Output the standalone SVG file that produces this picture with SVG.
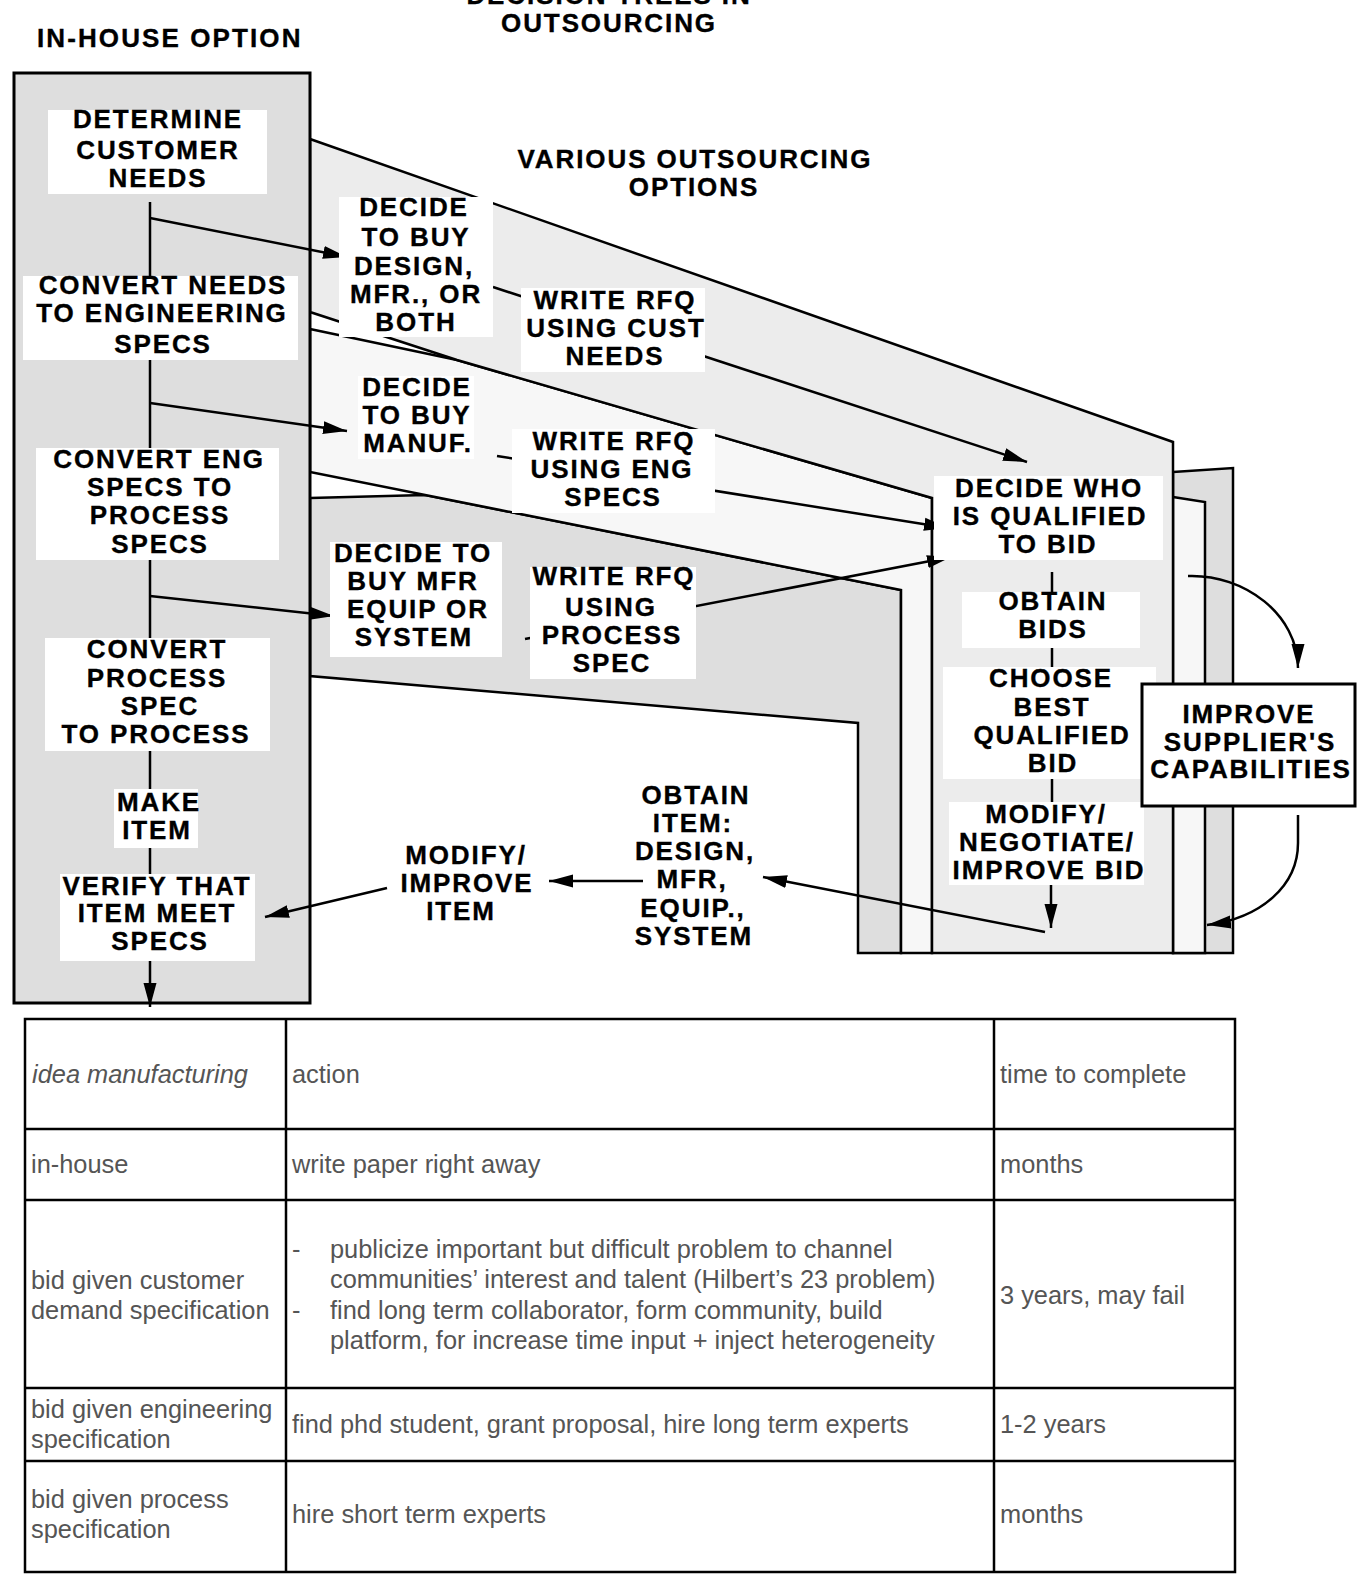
<svg xmlns="http://www.w3.org/2000/svg" width="1362" height="1578" viewBox="0 0 1362 1578">
<style>
.lbl{font-family:"Liberation Sans",Arial,Helvetica,sans-serif;font-weight:bold;font-size:26px;letter-spacing:1.9px;text-anchor:middle;fill:#000;stroke:#000;stroke-width:0.35px}
.ttl{font-family:"Liberation Sans",Arial,Helvetica,sans-serif;font-weight:bold;font-size:26px;letter-spacing:2.1px;fill:#000;stroke:#000;stroke-width:0.35px}
.box{fill:#fff}
.cn{stroke:#000;stroke-width:2.5;fill:none}
.arr{marker-end:url(#ah)}
.band{stroke:#000;stroke-width:2.5;stroke-linejoin:miter}
.tl{stroke:#000;stroke-width:2.5}
.tt{font-family:"Liberation Sans",Arial,Helvetica,sans-serif;font-size:25.4px;fill:#555}
</style>
<defs>
<marker id="ah" markerUnits="userSpaceOnUse" markerWidth="25" markerHeight="15" refX="24" refY="7.5" orient="auto">
<path d="M0,1 L24,7.5 L0,14 z" fill="#000"/>
</marker>
</defs>
<rect width="1362" height="1578" fill="#fff"/>

<g id="titles">
<text class="lbl" x="609" y="4">DECISION TREES IN</text>
<text class="lbl" x="609" y="32">OUTSOURCING</text>
<text class="ttl" x="37" y="47">IN-HOUSE OPTION</text>
<text class="lbl" x="695" y="168">VARIOUS OUTSOURCING</text>
<text class="lbl" x="694" y="196">OPTIONS</text>
</g>

<g id="bands">
<polygon class="band" fill="#dedede" points="1173,472 1233,468 1233,953 1173,953"/>
<polygon class="band" fill="#f7f7f7" points="1173,497 1205,502 1205,953 1173,953"/>
<polygon class="band" fill="#dedede" points="310,498 425,495 901,590 901,953 858,953 858,723 310,676"/>
<polygon class="band" fill="#f7f7f7" points="310,329 457,360 932,498 932,953 901,953 901,590 310,472"/>
<polygon class="band" fill="#ececec" points="310,139 1173,442 1173,953 932,953 932,498 457,360 310,312"/>
</g>

<g id="inhouse">
<rect x="14" y="73" width="296" height="930" fill="#dedede" stroke="#000" stroke-width="3"/>
</g>

<g id="connectors">
<line class="cn" x1="150" y1="202" x2="150" y2="276"/>
<line class="cn" x1="150" y1="360" x2="150" y2="448"/>
<line class="cn" x1="150" y1="560" x2="150" y2="638"/>
<line class="cn" x1="150" y1="751" x2="150" y2="789"/>
<line class="cn" x1="150" y1="848" x2="150" y2="874"/>
<line class="cn arr" x1="150" y1="961" x2="150" y2="1007"/>
<line class="cn arr" x1="150" y1="218" x2="347" y2="257"/>
<line class="cn arr" x1="150" y1="403" x2="347" y2="431"/>
<line class="cn arr" x1="150" y1="596" x2="334" y2="616"/>
<line class="cn arr" x1="493" y1="287" x2="1027" y2="462"/>
<line class="cn arr" x1="497" y1="456" x2="948" y2="528"/>
<line class="cn arr" x1="525" y1="639" x2="951" y2="557"/>
<line class="cn" x1="1052" y1="572" x2="1052" y2="592"/>
<line class="cn" x1="1052" y1="648" x2="1052" y2="667"/>
<line class="cn" x1="1052" y1="779" x2="1052" y2="802"/>
<line class="cn arr" x1="1051" y1="885" x2="1051" y2="928"/>
<line class="cn arr" x1="1045" y1="932" x2="763" y2="877"/>
<line class="cn arr" x1="643" y1="881" x2="549" y2="881"/>
<line class="cn arr" x1="387" y1="888" x2="265" y2="917"/>
<path class="cn arr" d="M1188,576 C1245,574 1298,615 1298,668"/>
<path class="cn arr" d="M1298,815 L1298,843 C1298,885 1262,918 1207,925"/>
</g>

<g id="n-determine"><rect class="box" x="48" y="110" width="219" height="84"/>
<text class="lbl"><tspan x="158" y="128">DETERMINE</tspan><tspan x="158" y="159">CUSTOMER</tspan><tspan x="158" y="187">NEEDS</tspan></text></g>

<g id="n-convert-needs"><rect class="box" x="23" y="276" width="275" height="84"/>
<text class="lbl"><tspan x="163" y="294">CONVERT NEEDS</tspan><tspan x="162" y="322">TO ENGINEERING</tspan><tspan x="163" y="353">SPECS</tspan></text></g>

<g id="n-decide-design"><rect class="box" x="339" y="197" width="154" height="140"/>
<text class="lbl"><tspan x="414" y="216">DECIDE</tspan><tspan x="416" y="246">TO BUY</tspan><tspan x="414" y="275">DESIGN,</tspan><tspan x="416" y="303">MFR., OR</tspan><tspan x="416" y="331">BOTH</tspan></text></g>

<g id="n-write-cust"><rect class="box" x="521" y="288" width="184" height="84"/>
<text class="lbl"><tspan x="615" y="309">WRITE RFQ</tspan><tspan x="616" y="337">USING CUST</tspan><tspan x="615" y="365">NEEDS</tspan></text></g>

<g id="n-decide-manuf"><rect class="box" x="358" y="376" width="116" height="83"/>
<text class="lbl"><tspan x="417" y="396">DECIDE</tspan><tspan x="417" y="424">TO BUY</tspan><tspan x="418" y="452">MANUF.</tspan></text></g>

<g id="n-write-eng"><rect class="box" x="512" y="429" width="203" height="84"/>
<text class="lbl"><tspan x="614" y="450">WRITE RFQ</tspan><tspan x="612" y="478">USING ENG</tspan><tspan x="613" y="506">SPECS</tspan></text></g>

<g id="n-convert-eng"><rect class="box" x="36" y="448" width="243" height="112"/>
<text class="lbl"><tspan x="159" y="468">CONVERT ENG</tspan><tspan x="160" y="496">SPECS TO</tspan><tspan x="160" y="524">PROCESS</tspan><tspan x="160" y="553">SPECS</tspan></text></g>

<g id="n-decide-equip"><rect class="box" x="330" y="542" width="172" height="115"/>
<text class="lbl"><tspan x="413" y="562">DECIDE TO</tspan><tspan x="413" y="590">BUY MFR</tspan><tspan x="418" y="618">EQUIP OR</tspan><tspan x="414" y="646">SYSTEM</tspan></text></g>

<g id="n-write-proc"><rect class="box" x="530" y="567" width="166" height="112"/>
<text class="lbl"><tspan x="614" y="585">WRITE RFQ</tspan><tspan x="611" y="616">USING</tspan><tspan x="612" y="644">PROCESS</tspan><tspan x="612" y="672">SPEC</tspan></text></g>

<g id="n-convert-proc"><rect class="box" x="45" y="638" width="225" height="113"/>
<text class="lbl"><tspan x="157" y="658">CONVERT</tspan><tspan x="157" y="687">PROCESS</tspan><tspan x="160" y="715">SPEC</tspan><tspan x="156" y="743">TO PROCESS</tspan></text></g>

<g id="n-make"><rect class="box" x="114" y="789" width="84" height="59"/>
<text class="lbl"><tspan x="159" y="811">MAKE</tspan><tspan x="157" y="839">ITEM</tspan></text></g>

<g id="n-verify"><rect class="box" x="60" y="874" width="195" height="87"/>
<text class="lbl"><tspan x="157" y="895">VERIFY THAT</tspan><tspan x="157" y="922">ITEM MEET</tspan><tspan x="160" y="950">SPECS</tspan></text></g>

<g id="n-modify-item">
<text class="lbl"><tspan x="466" y="864">MODIFY/</tspan><tspan x="467" y="892">IMPROVE</tspan><tspan x="461" y="920">ITEM</tspan></text></g>

<g id="n-obtain-item">
<text class="lbl"><tspan x="696" y="804">OBTAIN</tspan><tspan x="693" y="832">ITEM:</tspan><tspan x="695" y="860">DESIGN,</tspan><tspan x="692" y="888">MFR,</tspan><tspan x="693" y="917">EQUIP.,</tspan><tspan x="694" y="945">SYSTEM</tspan></text></g>

<g id="n-decide-who"><rect class="box" x="934" y="476" width="229" height="84"/>
<text class="lbl"><tspan x="1049" y="497">DECIDE WHO</tspan><tspan x="1050" y="525">IS QUALIFIED</tspan><tspan x="1048" y="553">TO BID</tspan></text></g>

<g id="n-obtain-bids"><rect class="box" x="962" y="592" width="178" height="56"/>
<text class="lbl"><tspan x="1053" y="610">OBTAIN</tspan><tspan x="1053" y="638">BIDS</tspan></text></g>

<g id="n-choose"><rect class="box" x="943" y="667" width="213" height="112"/>
<text class="lbl"><tspan x="1051" y="687">CHOOSE</tspan><tspan x="1052" y="716">BEST</tspan><tspan x="1052" y="744">QUALIFIED</tspan><tspan x="1053" y="772">BID</tspan></text></g>

<g id="n-modify-bid"><rect class="box" x="949" y="802" width="195" height="83"/>
<text class="lbl"><tspan x="1046" y="823">MODIFY/</tspan><tspan x="1047" y="851">NEGOTIATE/</tspan><tspan x="1049" y="879">IMPROVE BID</tspan></text></g>

<g id="n-improve-supplier"><rect x="1142" y="684" width="213" height="122" fill="#fff" stroke="#000" stroke-width="3"/>
<text class="lbl"><tspan x="1249" y="723">IMPROVE</tspan><tspan x="1250" y="751">SUPPLIER'S</tspan><tspan x="1251" y="778">CAPABILITIES</tspan></text></g>

<g id="table">
<rect x="25" y="1019" width="1210" height="553" fill="#fff" class="tl"/>
<line class="tl" x1="286" y1="1019" x2="286" y2="1572"/>
<line class="tl" x1="994" y1="1019" x2="994" y2="1572"/>
<line class="tl" x1="25" y1="1129" x2="1235" y2="1129"/>
<line class="tl" x1="25" y1="1200" x2="1235" y2="1200"/>
<line class="tl" x1="25" y1="1388" x2="1235" y2="1388"/>
<line class="tl" x1="25" y1="1461" x2="1235" y2="1461"/>
<text class="tt" x="32" y="1083" font-style="italic">idea manufacturing</text>
<text class="tt" x="292" y="1083">action</text>
<text class="tt" x="1000" y="1083">time to complete</text>
<text class="tt" x="31" y="1173">in-house</text>
<text class="tt" x="292" y="1173">write paper right away</text>
<text class="tt" x="1000" y="1173">months</text>
<text class="tt" x="31" y="1289">bid given customer</text>
<text class="tt" x="31" y="1319">demand specification</text>
<text class="tt" x="292" y="1258">-</text>
<text class="tt" x="330" y="1258">publicize important but difficult problem to channel</text>
<text class="tt" x="330" y="1288">communities’ interest and talent (Hilbert’s 23 problem)</text>
<text class="tt" x="292" y="1319">-</text>
<text class="tt" x="330" y="1319">find long term collaborator, form community, build</text>
<text class="tt" x="330" y="1349">platform, for increase time input + inject heterogeneity</text>
<text class="tt" x="1000" y="1304">3 years, may fail</text>
<text class="tt" x="31" y="1418">bid given engineering</text>
<text class="tt" x="31" y="1448">specification</text>
<text class="tt" x="292" y="1433">find phd student, grant proposal, hire long term experts</text>
<text class="tt" x="1000" y="1433">1-2 years</text>
<text class="tt" x="31" y="1508">bid given process</text>
<text class="tt" x="31" y="1538">specification</text>
<text class="tt" x="292" y="1523">hire short term experts</text>
<text class="tt" x="1000" y="1523">months</text>
</g>
</svg>
